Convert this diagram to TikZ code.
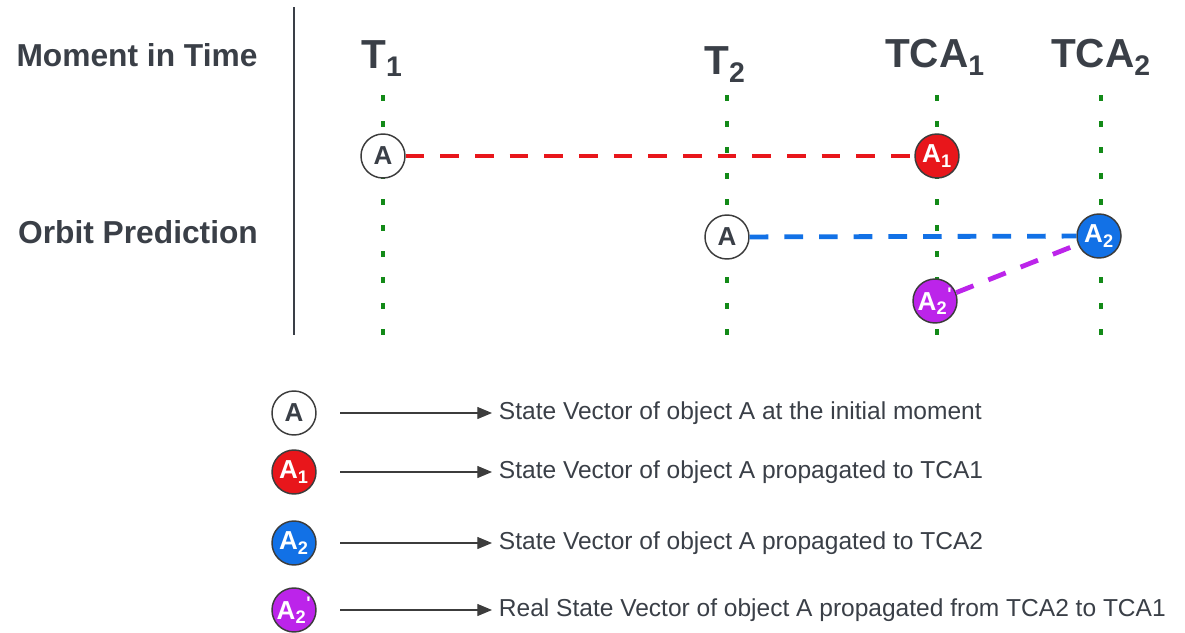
\documentclass[tikz,border=0pt]{standalone}
\usepackage{fontspec}
\setmainfont{Liberation Sans}
\usepackage{xcolor}
\usetikzlibrary{arrows.meta, positioning}
\definecolor{OP_Text}{HTML}{3A3F47}
\definecolor{OP_Border}{HTML}{3C3C3C}
\definecolor{OP_Green}{HTML}{138A18}
\definecolor{OP_Red}{HTML}{E8161B}
\definecolor{OP_Blue}{HTML}{1271E6}
\definecolor{OP_Purple}{HTML}{BC24EA}

\begin{document}
\begin{tikzpicture}[
  x=0.75pt, y=-0.75pt,
  rowlabel/.style={font=\fontsize{23.8}{28}\selectfont\bfseries, text=OP_Text, inner sep=0pt},
  timelabel/.style={anchor=base, font=\fontsize{30.4}{36}\selectfont\bfseries, text=OP_Text, inner sep=0pt},
  statecircle/.style={circle, minimum size=33pt, inner sep=0pt, draw=OP_Border, line width=1.1pt, font=\fontsize{19.5}{22}\selectfont\bfseries},
  timeline/.style={draw=OP_Green, line width=3pt, dash pattern=on 4.5pt off 15pt},
  propline/.style={line width=3.6pt, dash pattern=on 14pt off 12pt},
  legendtext/.style={anchor=west, inner xsep=5pt, inner ysep=0pt, font=\fontsize{18.4}{22}\selectfont, text=OP_Text},
  legendarrow/.style={draw=OP_Border, line width=0.9pt, -{Triangle[length=11pt, width=9pt]}},
]
\useasboundingbox (0,0) rectangle (1185,632);

% --- row labels and divider ---
\node[rowlabel] (moment) at (137,55) {Moment in Time};
\node[rowlabel] (orbit) at (138,232) {Orbit Prediction};
\coordinate (divtop) at (294,7);
\coordinate (divbot) at (294,335);
\draw[OP_Text, line width=2.2pt] (divtop) -- (divbot);

% --- moments in time ---
\node[timelabel] (t1) at (382,68) {T\textsubscript{1}};
\node[timelabel] (t2) at (725,74) {T\textsubscript{2}};
\node[timelabel] (tca1) at (935,67) {TCA\textsubscript{1}};
\node[timelabel] (tca2) at (1101,67) {TCA\textsubscript{2}};

\foreach \nm/\xx in {t1/383, t2/727, tca1/937, tca2/1101}
{
  \coordinate (\nm top) at (\xx,95);
  \coordinate (\nm bot) at (\xx,335);
  \draw[timeline] (\nm top) -- (\nm bot);
}

% --- state vectors ---
\node[statecircle, fill=white, text=OP_Text] (aone) at (383,156) {A};
\node[statecircle, fill=OP_Red, text=white] (aprop1) at (937,156) {A\textsubscript{1}};
\node[statecircle, fill=white, text=OP_Text] (atwo) at (727,237) {A};
\node[statecircle, fill=OP_Blue, text=white] (aprop2) at (1099,236) {A\textsubscript{2}};
\node[statecircle, fill=OP_Purple, text=white] (areal) at (935,301) {A\textsubscript{2}\textsuperscript{\textquotesingle}};

\draw[propline, OP_Red] (aone) -- (aprop1);
\draw[propline, OP_Blue] (atwo) -- (aprop2);
\draw[propline, OP_Purple] (areal) -- (aprop2);

% --- legend ---
\foreach \nm/\yy/\fillc/\txtc/\lbl/\desc in {
  init/413/white/OP_Text/{A}/{State Vector of object A at the initial moment},
  tcaone/472/OP_Red/white/{A\textsubscript{1}}/{State Vector of object A propagated to TCA1},
  tcatwo/543/OP_Blue/white/{A\textsubscript{2}}/{State Vector of object A propagated to TCA2},
  real/610/OP_Purple/white/{A\textsubscript{2}\textsuperscript{\textquotesingle}}/{Real State Vector of object A propagated from TCA2 to TCA1}}
{
  \node[statecircle, fill=\fillc, text=\txtc] (leg\nm) at (294,\yy) {\lbl};
  \coordinate (arr\nm) at (340,\yy);
  \node[legendtext] (txt\nm) at (492,\yy) {\desc};
  \draw[legendarrow] (arr\nm) -- (txt\nm.west);
}

\end{tikzpicture}
\end{document}
